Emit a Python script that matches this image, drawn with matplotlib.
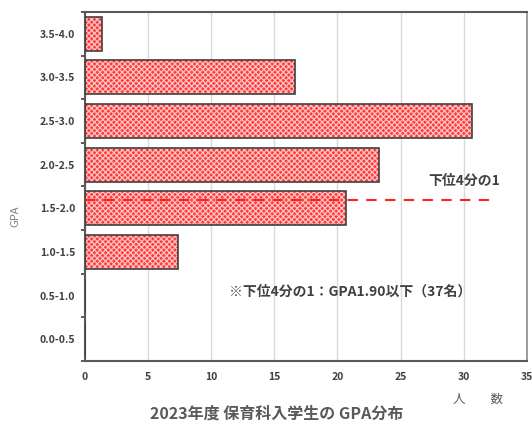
import numpy as np
import matplotlib.pyplot as plt

plt.rcParams['font.family'] = ['Noto Sans CJK JP', 'DejaVu Sans']
plt.rcParams['hatch.linewidth'] = 0.9

# GPA bands (bottom to top) and share of students (%)
gpa_bands = ["0.0-0.5", "0.5-1.0", "1.0-1.5", "1.5-2.0",
             "2.0-2.5", "2.5-3.0", "3.0-3.5", "3.5-4.0"]
share = [0, 0, 7.33, 20.67, 23.33, 30.67, 16.67, 1.33]
x_ticks = [0, 5, 10, 15, 20, 25, 30, 35]

quartile_y = 3.2      # GPA 1.90 line inside the 1.5-2.0 band
quartile_end = 32

fig = plt.figure(figsize=(5.32, 4.26), dpi=100)
ax = fig.add_axes([0.16, 0.1526, 0.83, 0.8194])

y = np.arange(len(gpa_bands))
# pattern layer, then outline layer
ax.barh(y, share, height=0.78, color='#ff3a3a', edgecolor='#ffc4c4',
        hatch='xxxxxx', linewidth=0, zorder=2)
ax.barh(y, share, height=0.78, color='none', edgecolor='#404040',
        linewidth=1.2, zorder=3)

ax.plot([0, quartile_end], [quartile_y, quartile_y], color='#ff2020',
        linestyle=(0, (5, 4)), linewidth=1.5, zorder=4)

ax.set_xlim(0, 35)
ax.set_ylim(-0.5, len(gpa_bands) - 0.5)
ax.set_xticks(x_ticks)
ax.set_xticklabels([str(t) for t in x_ticks], fontsize=7.5,
                   fontweight='bold', color='#404040')
ax.set_yticks(y)
ax.set_yticklabels(gpa_bands, fontsize=7.5, fontweight='bold', color='#404040')
ax.set_yticks(np.arange(-0.5, len(gpa_bands)), minor=True)
ax.tick_params(axis='y', which='major', length=0, pad=7)
ax.tick_params(axis='y', which='minor', length=3, width=1.2, color='#404040')
ax.tick_params(axis='x', length=0, pad=8)

ax.grid(axis='x', color='#d9d9d9', linewidth=1, zorder=0)
ax.set_axisbelow(True)
for side in ['left', 'bottom', 'top']:
    ax.spines[side].set_color('#595959')
    ax.spines[side].set_linewidth(1.5)
ax.spines['right'].set_color('#8c8c8c')
ax.spines['right'].set_linewidth(1.2)

ax.set_ylabel("GPA", fontsize=8, color='#7f7f7f', va='center')
ax.yaxis.set_label_coords(-0.158, 0.415)

ax.text(0.777, 0.515, "下位4分の1", transform=ax.transAxes, fontsize=10,
        fontweight='bold', color='#404040', ha='left', va='center')
ax.text(0.325, 0.2, "※下位4分の1：GPA1.90以下（37名）", transform=ax.transAxes,
        fontsize=10, fontweight='bold', color='#404040', ha='left', va='center')

fig.text(0.898, 0.063, "人　　数", fontsize=9, color='#595959',
         ha='center', va='center')
fig.text(0.52, 0.03, "2023年度 保育科入学生の GPA分布", fontsize=11.5,
         fontweight='bold', color='#595959', ha='center', va='center')

fig.savefig("out.png", dpi=100)
